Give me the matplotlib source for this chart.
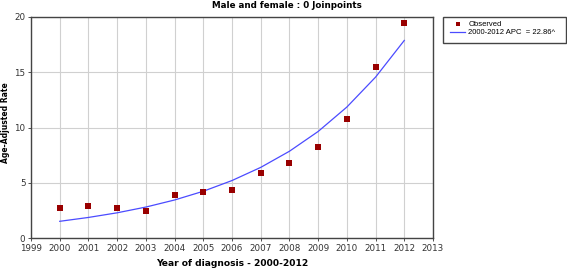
import matplotlib
matplotlib.use("Agg")
import matplotlib.pyplot as plt
from matplotlib.patches import Rectangle

years = [2000, 2001, 2002, 2003, 2004, 2005, 2006, 2007, 2008, 2009, 2010, 2011, 2012]
observed = [2.69, 2.92, 2.70, 2.41, 3.92, 4.19, 4.37, 5.91, 6.76, 8.26, 10.74, 15.45, 19.43]
fitted = [1.51, 1.86, 2.28, 2.80, 3.44, 4.23, 5.20, 6.39, 7.85, 9.64, 11.85, 14.56, 17.88]
xticks = list(range(1999, 2014))
yticks = [0, 5, 10, 15, 20]

W, H = 567, 270
plt.rcParams['font.family'] = ['DejaVu Sans']
fig = plt.figure(figsize=(W/100, H/100), dpi=100)
ax = fig.add_axes([31/W, 1-238/H, (433-31)/W, (238-17)/H])

ax.plot(years, fitted, color='#4b4bff', lw=0.9, label='2000-2012 APC  = 22.86^', zorder=3)
ax.scatter(years, observed, marker='s', s=13, color='#990000', label='Observed', zorder=4, linewidths=0)

ax.set_xlim(1999, 2013)
ax.set_ylim(0, 20)
ax.set_xticks(xticks)
ax.set_yticks(yticks)
ax.tick_params(labelsize=6.3, length=2, width=0.6, colors='#333333', pad=2)
ax.grid(True, color='#d0d0d0', lw=0.8)
ax.set_axisbelow(True)
for s in ax.spines.values():
    s.set_color('#444444')
    s.set_linewidth(1.0)

fig.text(287/W, 1-5/H, 'Male and female : 0 Joinpoints', ha='center', va='center',
         fontsize=6.3, fontweight='bold')
fig.text(232/W, 1-264/H, 'Year of diagnosis - 2000-2012', ha='center', va='center',
         fontsize=6.6, fontweight='bold')
fig.text(6/W, 1-123/H, 'Age-Adjusted Rate', ha='center', va='center', rotation=90,
         fontsize=5.5, fontweight='bold')

# legend frame
fig.patches.append(Rectangle((443/W, 1-43/H), (566-443)/W, (43-17)/H,
                             transform=fig.transFigure, fill=False,
                             edgecolor='#444444', linewidth=1.0))
h, l = ax.get_legend_handles_labels()
leg = fig.legend([h[1], h[0]], [l[1], l[0]], loc='upper left',
                 bbox_to_anchor=(450/W, 1-21/H),
                 prop={'family': 'Liberation Sans', 'size': 5.5}, frameon=False,
                 borderpad=0, labelspacing=0.1, markerscale=0.8,
                 handlelength=2.0, handletextpad=0.4, borderaxespad=0)

fig.savefig('out.png', dpi=100)
